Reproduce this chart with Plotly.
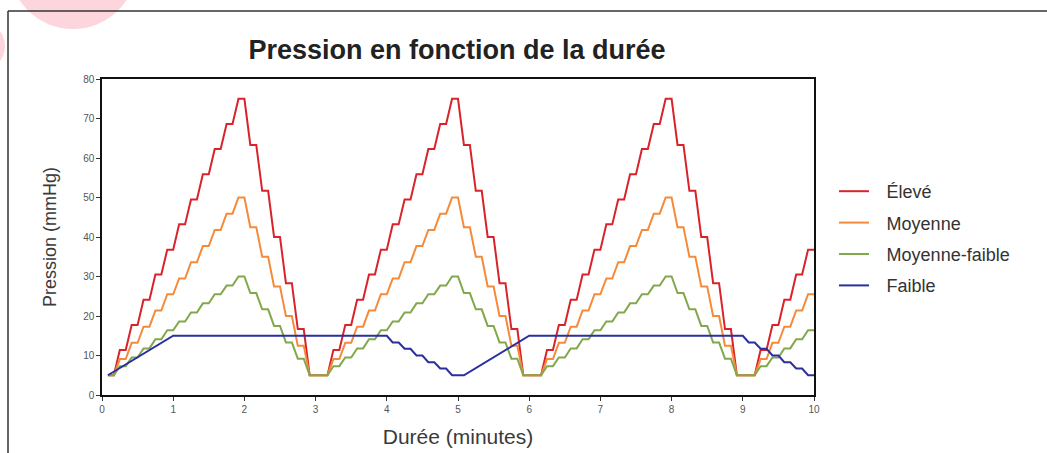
import plotly.graph_objects as go

# Time grid (seconds, every 5 s) for the stepped series
duree_s = list(range(5, 605, 5))
duree_min = [s / 60 for s in duree_s]

eleve = (
    [5, 5, 11.4, 11.4, 17.7, 17.7, 24.1, 24.1, 30.5, 30.5, 36.8, 36.8, 43.2, 43.2, 49.5, 49.5, 55.9, 55.9,
     62.3, 62.3, 68.6, 68.6, 75, 75, 63.3, 63.3, 51.7, 51.7, 40, 40, 28.3, 28.3, 16.7, 16.7, 5]
    + [5, 5, 5, 11.4, 11.4, 17.7, 17.7, 24.1, 24.1, 30.5, 30.5, 36.8, 36.8, 43.2, 43.2, 49.5, 49.5, 55.9, 55.9,
       62.3, 62.3, 68.6, 68.6, 75, 75, 63.3, 63.3, 51.7, 51.7, 40, 40, 28.3, 28.3, 16.7, 16.7, 5]
    + [5, 5, 5, 11.4, 11.4, 17.7, 17.7, 24.1, 24.1, 30.5, 30.5, 36.8, 36.8, 43.2, 43.2, 49.5, 49.5, 55.9, 55.9,
       62.3, 62.3, 68.6, 68.6, 75, 75, 63.3, 63.3, 51.7, 51.7, 40, 40, 28.3, 28.3, 16.7, 16.7, 5]
    + [5, 5, 5, 11.4, 11.4, 17.7, 17.7, 24.1, 24.1, 30.5, 30.5, 36.8, 36.8]
)

moyenne = (
    [5, 5, 9.1, 9.1, 13.2, 13.2, 17.3, 17.3, 21.4, 21.4, 25.5, 25.5, 29.5, 29.5, 33.6, 33.6, 37.7, 37.7,
     41.8, 41.8, 45.9, 45.9, 50, 50, 42.5, 42.5, 35, 35, 27.5, 27.5, 20, 20, 12.5, 12.5, 5]
    + [5, 5, 5, 9.1, 9.1, 13.2, 13.2, 17.3, 17.3, 21.4, 21.4, 25.5, 25.5, 29.5, 29.5, 33.6, 33.6, 37.7, 37.7,
       41.8, 41.8, 45.9, 45.9, 50, 50, 42.5, 42.5, 35, 35, 27.5, 27.5, 20, 20, 12.5, 12.5, 5]
    + [5, 5, 5, 9.1, 9.1, 13.2, 13.2, 17.3, 17.3, 21.4, 21.4, 25.5, 25.5, 29.5, 29.5, 33.6, 33.6, 37.7, 37.7,
       41.8, 41.8, 45.9, 45.9, 50, 50, 42.5, 42.5, 35, 35, 27.5, 27.5, 20, 20, 12.5, 12.5, 5]
    + [5, 5, 5, 9.1, 9.1, 13.2, 13.2, 17.3, 17.3, 21.4, 21.4, 25.5, 25.5]
)

moyenne_faible = (
    [5, 5, 7.3, 7.3, 9.5, 9.5, 11.8, 11.8, 14.1, 14.1, 16.4, 16.4, 18.6, 18.6, 20.9, 20.9, 23.2, 23.2,
     25.5, 25.5, 27.7, 27.7, 30, 30, 25.8, 25.8, 21.7, 21.7, 17.5, 17.5, 13.3, 13.3, 9.2, 9.2, 5]
    + [5, 5, 5, 7.3, 7.3, 9.5, 9.5, 11.8, 11.8, 14.1, 14.1, 16.4, 16.4, 18.6, 18.6, 20.9, 20.9, 23.2, 23.2,
       25.5, 25.5, 27.7, 27.7, 30, 30, 25.8, 25.8, 21.7, 21.7, 17.5, 17.5, 13.3, 13.3, 9.2, 9.2, 5]
    + [5, 5, 5, 7.3, 7.3, 9.5, 9.5, 11.8, 11.8, 14.1, 14.1, 16.4, 16.4, 18.6, 18.6, 20.9, 20.9, 23.2, 23.2,
       25.5, 25.5, 27.7, 27.7, 30, 30, 25.8, 25.8, 21.7, 21.7, 17.5, 17.5, 13.3, 13.3, 9.2, 9.2, 5]
    + [5, 5, 5, 7.3, 7.3, 9.5, 9.5, 11.8, 11.8, 14.1, 14.1, 16.4, 16.4]
)

faible_t = [0.083, 1.0, 4.0, 4.083, 4.167, 4.25, 4.333, 4.417, 4.5, 4.583, 4.667, 4.75, 4.833, 4.917,
            5.083, 6.0, 9.0, 9.083, 9.167, 9.25, 9.333, 9.417, 9.5, 9.583, 9.667, 9.75, 9.833, 9.917, 10.0]
faible = [5, 15, 15, 13.3, 13.3, 11.7, 11.7, 10, 10, 8.3, 8.3, 6.7, 6.7, 5,
          5, 15, 15, 13.3, 13.3, 11.7, 11.7, 10, 10, 8.3, 8.3, 6.7, 6.7, 5, 5]

x_ticks = list(range(0, 11))
y_ticks = list(range(0, 90, 10))

series = [
    ("Élevé", duree_min, eleve, "#d9232a"),
    ("Moyenne", duree_min, moyenne, "#f58a3a"),
    ("Moyenne-faible", duree_min, moyenne_faible, "#82a84c"),
    ("Faible", faible_t, faible, "#2a2f9e"),
]

fig = go.Figure()
for name, xs, ys, col in series:
    fig.add_trace(go.Scatter(x=xs, y=ys, mode="lines", name="\u2002\u2009" + name, legendgroup=name,
                             line=dict(color=col, width=2)))

L, R, T, B = 102, 233, 79, 58
W, H = 1047, 453
pw, ph = W - L - R, H - T - B

def px(x):
    return (x - L) / pw

def py(y):
    return (H - B - y) / ph

shapes = [
    dict(type="circle", xref="paper", yref="paper", layer="below",
         x0=px(9), x1=px(137), y0=py(29), y1=py(-99),
         fillcolor="#fcd6dc", line=dict(width=0)),
    dict(type="circle", xref="paper", yref="paper", layer="below",
         x0=px(-45), x1=px(5), y0=py(71), y1=py(21),
         fillcolor="#fcd6dc", line=dict(width=0)),
    dict(type="line", xref="paper", yref="paper", x0=px(8), x1=px(1050), y0=py(11), y1=py(11),
         line=dict(color="#333333", width=1.5)),
    dict(type="line", xref="paper", yref="paper", x0=px(8), x1=px(8), y0=py(11), y1=py(460),
         line=dict(color="#333333", width=1.5)),
]

tickfont = dict(family="Liberation Sans Narrow, Arial Narrow, Liberation Sans, Arial", size=10, color="#555555")

fig.update_layout(
    width=W, height=H,
    margin=dict(l=L, r=R, t=T, b=B, autoexpand=False),
    paper_bgcolor="white", plot_bgcolor="white",
    title=dict(text="<b>Pression en fonction de la durée</b>", x=457 / W, xanchor="center",
               y=1 - 50 / H, yanchor="middle",
               font=dict(family="Liberation Sans, Arial", size=27, color="#222222")),
    shapes=shapes,
    showlegend=True,
    legend=dict(x=px(834), xanchor="left", y=py(173), yanchor="top",
                font=dict(family="Liberation Sans, Arial", size=18, color="#333333"),
                tracegroupgap=5, bgcolor="rgba(0,0,0,0)"),
    xaxis=dict(range=[0, 10], tickvals=x_ticks, ticktext=[str(v) for v in x_ticks],
               showgrid=False, zeroline=False, showline=True, mirror=True, automargin=False,
               linecolor="#111111", linewidth=1.5, ticks="outside", ticklen=4, tickcolor="#333333",
               tickfont=tickfont,
               title=dict(text="Durée (minutes)", standoff=16,
                          font=dict(family="Liberation Sans, Arial", size=21, color="#3a3a3a"))),
    yaxis=dict(range=[0, 80], tickvals=y_ticks, ticktext=[str(v) for v in y_ticks],
               showgrid=False, zeroline=False, showline=True, mirror=True, automargin=False,
               linecolor="#111111", linewidth=1.5, ticks="outside", ticklen=4, tickcolor="#333333",
               tickfont=tickfont,
               title=dict(text="Pression (mmHg)", standoff=22,
                          font=dict(family="Liberation Sans, Arial", size=18, color="#3a3a3a"))),
)

fig.write_html("out.html", config={"displayModeBar": False},
               post_script="document.body.style.margin='0px';document.body.style.padding='0px';")
